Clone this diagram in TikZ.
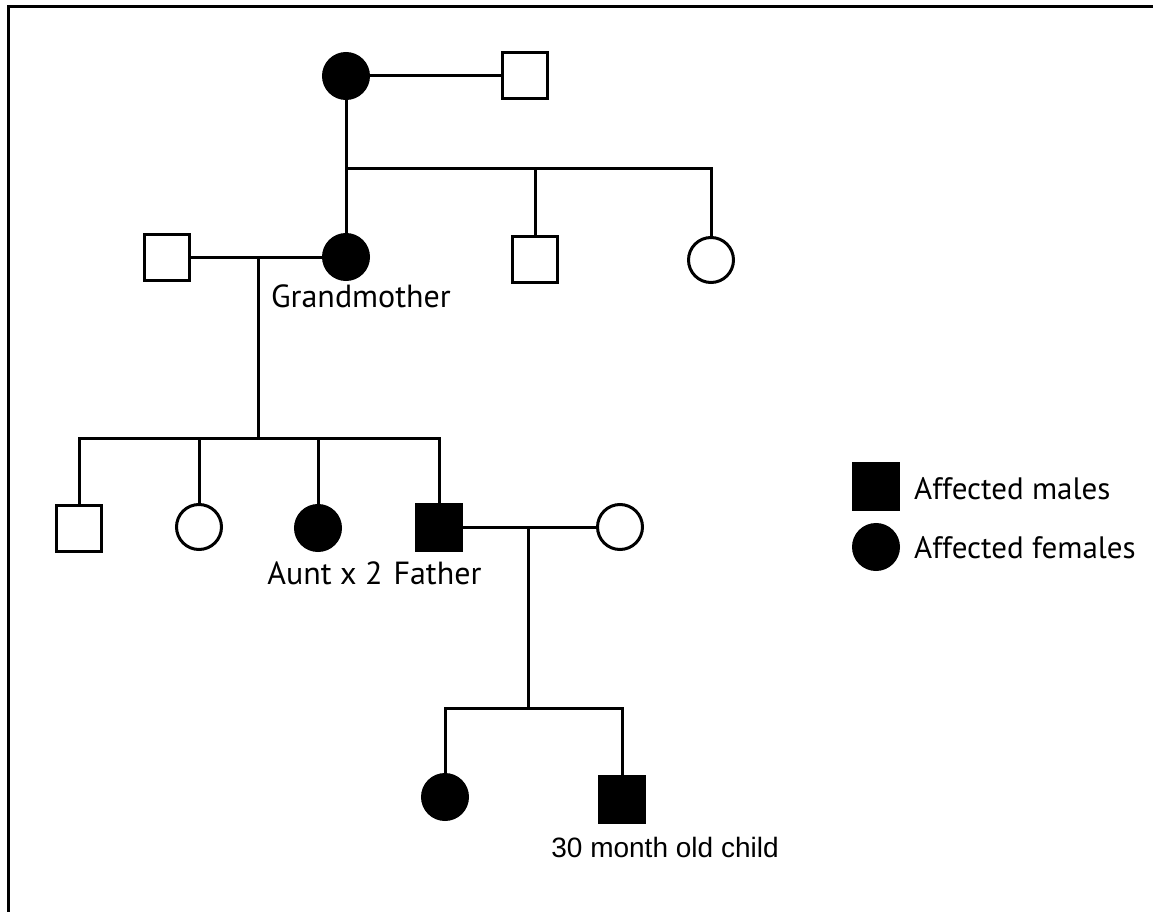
\documentclass[tikz,border=0pt]{standalone}
\usepackage{fontspec}
\newfontfamily\myr{PT Sans}
\newfontfamily\ari{Liberation Sans}
\begin{document}
\begin{tikzpicture}[x=1pt,y=-1pt,
  ln/.style={line width=3pt},
  male/.style={draw,line width=3pt,rectangle,minimum width=45pt,minimum height=46pt,inner sep=0pt,fill=white},
  female/.style={draw,line width=3pt,circle,minimum size=45pt,inner sep=0pt,fill=white},
  aff/.style={fill=black},
  lab/.style={anchor=base,inner sep=0pt,font=\myr\fontsize{32}{37}\selectfont},
  leg/.style={anchor=base west,inner sep=0pt,font=\myr\fontsize{31}{36}\selectfont}]
\useasboundingbox (0,0) rectangle (1153,912);
\fill[white] (0,0) rectangle (1153,912);
\draw[line width=3pt] (8,912) -- (8,6.5) -- (1153,6.5);
% generation I
\node[female,aff] (F1) at (346,76) {};
\node[male] (M1) at (525,76) {};
% generation II
\node[female,aff] (GM) at (346,257) {};
\node[male] (GF) at (167,257) {};
\node[male] (U1) at (535,259) {};
\node[female] (A1) at (711,260) {};
% generation III
\node[male] (S3) at (79,528) {};
\node[female] (D3a) at (199,527) {};
\node[female,aff] (D3b) at (318,528) {};
\node[male,aff] (FA) at (439,527) {};
\node[female] (WI) at (620,527) {};
% generation IV
\node[female,aff] (G4) at (445,797) {};
\node[male,aff] (C4) at (622,799) {};
% coordinates
\coordinate (s1) at (346,169);
\coordinate (m2) at (258,257);
\coordinate (s2) at (258,438);
\coordinate (m3) at (528,527);
\coordinate (s3) at (528,708);
% connectors
\begin{scope}[ln]
\draw (F1) -- (M1);
\draw (F1) -- (GM);
\draw (s1) -| (U1.north);
\draw (s1) -| (A1.north);
\draw (GF.east) -- (GM.west);
\draw (m2) -- (s2);
\draw (s2) -| (S3.north);
\draw (s2) -| (D3a.north);
\draw (s2) -| (D3b.north);
\draw (s2) -| (FA.north);
\draw (FA.east) -- (WI.west);
\draw (m3) -- (s3);
\draw (s3) -| (G4.north);
\draw (s3) -| (C4.north);
\end{scope}
% labels
\node[lab] (tGM) at (361,307) {Grandmother};
\node[lab] (tAU) at (325,584) {Aunt x 2};
\node[lab] (tFA) at (437.5,584) {Father};
\node[anchor=base,inner sep=0pt,font=\ari\fontsize{28}{33}\selectfont] (tC4) at (665,857) {30 month old child};
% legend
\node[male,aff] (LM) at (876,486) {};
\node[female,aff] (LF) at (876,547) {};
\node[leg] (tLM) at (914,499) {Affected males};
\node[leg] (tLF) at (914,558) {Affected females};
\end{tikzpicture}
\end{document}
